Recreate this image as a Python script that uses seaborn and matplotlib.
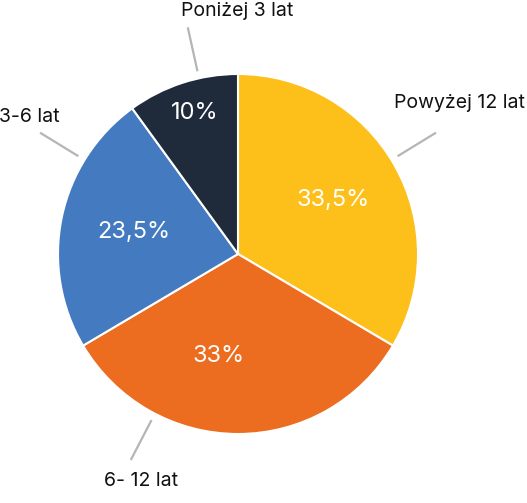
import numpy as np
import matplotlib
matplotlib.use("Agg")
import matplotlib.pyplot as plt
import seaborn as sns

categories = ["Powyżej 12 lat", "6- 12 lat", "3-6 lat", "Poniżej 3 lat"]
values = [33.5, 33.0, 23.5, 10.0]
pct_labels = ["33,5%", "33%", "23,5%", "10%"]
colors = ["#FDBF1A", "#EC6D1F", "#447BC0", "#1F2A3B"]

# layout (pixel-based)
W, H = 527, 503
cx, cy, R = 238, 503 - 254, 180
leader_angles = [31.5, -117.5, 148.5, 102.5]
pct_pos = [(0.61, None), (0.58, -101), (0.59, None), (0.82, 107)]
text_offsets = [(23, 30, "center"), (10, -21, "center"), (-11, 16, "center"), (49, 16, "center")]

sns.set_theme(style="white")
plt.rcParams["font.family"] = ["Inter", "DejaVu Sans"]

fig = plt.figure(figsize=(W / 100, H / 100), dpi=100)
ax = fig.add_axes([0, 0, 1, 1])
ax.set_xlim(0, W)
ax.set_ylim(0, H)
ax.set_aspect("equal")
ax.axis("off")

wedges, _ = ax.pie(values, colors=colors, startangle=90, counterclock=False,
                   center=(cx, cy), radius=R,
                   wedgeprops=dict(edgecolor="white", linewidth=1.5))
ax.set_xlim(0, W)
ax.set_ylim(0, H)

for w, lab, pct, la, (pr, pa), (dx, dy, ha) in zip(wedges, categories, pct_labels,
                                                  leader_angles, pct_pos, text_offsets):
    mid = (w.theta1 + w.theta2) / 2
    a = np.deg2rad(pa if pa is not None else mid)
    ax.text(cx + pr * R * np.cos(a), cy + pr * R * np.sin(a), pct,
            ha="center", va="center", color="white", fontsize=17)
    t = np.deg2rad(la)
    x0, y0 = cx + 1.04 * R * np.cos(t), cy + 1.04 * R * np.sin(t)
    x1, y1 = cx + 1.29 * R * np.cos(t), cy + 1.29 * R * np.sin(t)
    ax.plot([x0, x1], [y0, y1], color="#b5b5b5", lw=1.6, solid_capstyle="butt")
    ax.text(x1 + dx, y1 + dy, lab, ha=ha, va="center", color="#111111", fontsize=14)

fig.savefig("out.png", dpi=100)
